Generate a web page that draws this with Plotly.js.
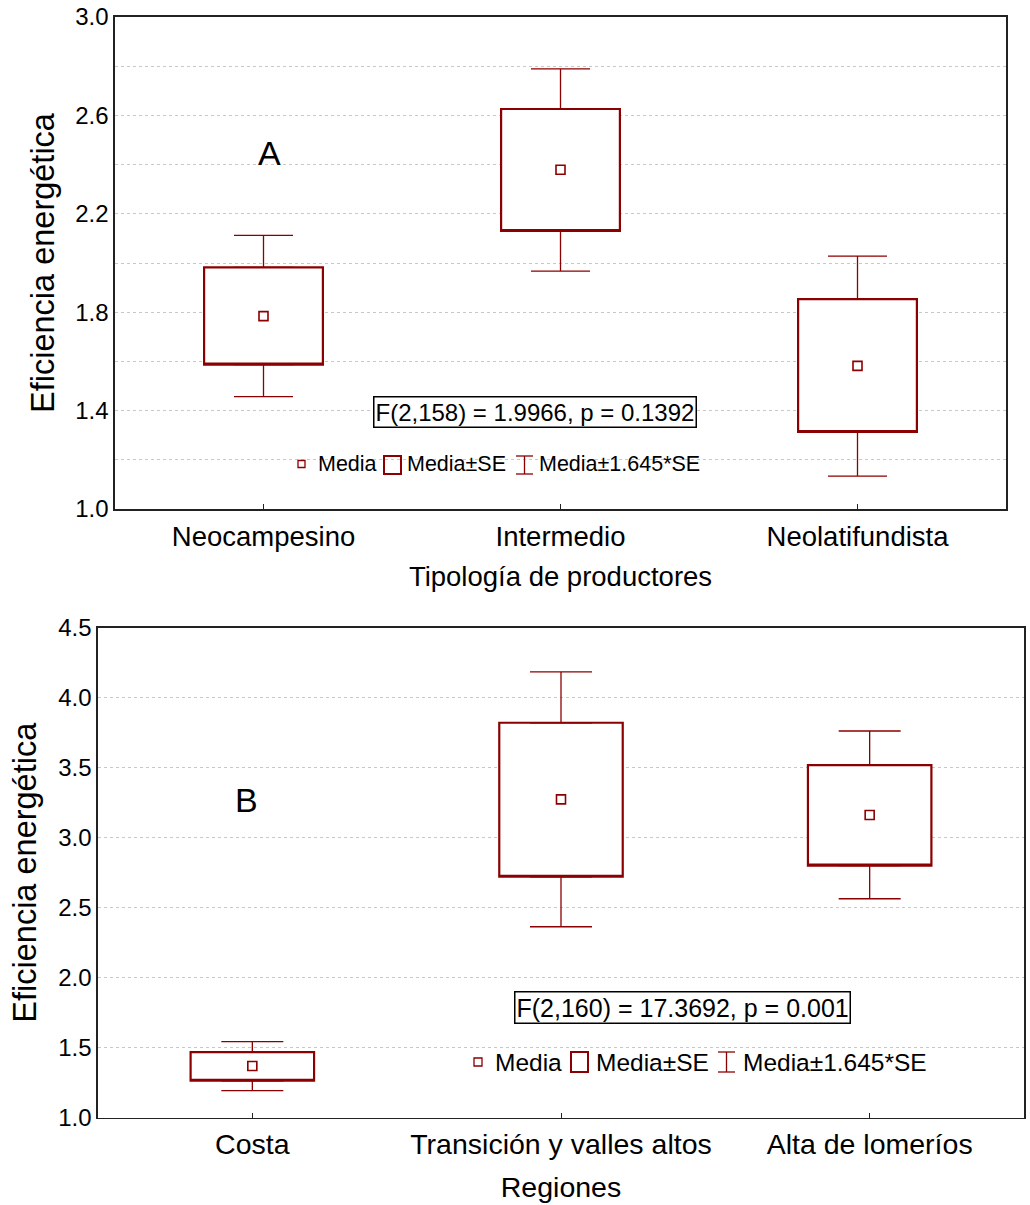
<!DOCTYPE html>
<html>
<head>
<meta charset="utf-8">
<script src="https://cdn.plot.ly/plotly-3.0.1.min.js"></script>
<style>html,body{margin:0;padding:0;background:#fff}#chart{width:1030px;height:1205px}</style>
</head>
<body>
<div id="chart"></div>
<script>
// ---- Panel A data (Tipología de productores) ----
const catsA = ['Neocampesino', 'Intermedio', 'Neolatifundista'];
const meanA = [1.784, 2.379, 1.582];
const seLowA = [1.587, 2.130, 1.313];
const seHighA = [1.982, 2.626, 1.853];
const ciLowA = [1.457, 1.967, 1.134];
const ciHighA = [2.112, 2.789, 2.028];

// ---- Panel B data (Regiones) ----
const catsB = ['Costa', 'Transición y valles altos', 'Alta de lomeríos'];
const meanB = [1.369, 3.274, 3.162];
const seLowB = [1.264, 2.721, 2.800];
const seHighB = [1.469, 3.821, 3.519];
const ciLowB = [1.193, 2.364, 2.564];
const ciHighB = [1.543, 4.184, 3.762];

const statA = 'F(2,158) = 1.9966, p = 0.1392';
const statB = 'F(2,160) = 17.3692, p = 0.001';
const legendLabels = ['Media', 'Media±SE', 'Media±1.645*SE'];
const yTitle = 'Eficiencia energética';
const xTitleA = 'Tipología de productores';
const xTitleB = 'Regiones';

const RED = '#8B0000';
const FONT = 'Arial, "Liberation Sans", sans-serif';
const W = 1030, H = 1205;
const px = v => v / W;
const py = v => 1 - v / H;

function panelTraces(cats, mean, seLow, seHigh, ciLow, ciHigh, xa, ya, capW) {
  const up = seHigh.map((v, i) => ciHigh[i] - v);
  const dn = seLow.map((v, i) => v - ciLow[i]);
  const zeros = cats.map(() => 0);
  return [
    {type: 'box', x: cats, q1: seLow, median: seLow, q3: seHigh,
     lowerfence: seLow, upperfence: seHigh, width: 0.4, whiskerwidth: 0,
     fillcolor: '#ffffff', line: {color: RED, width: 2.2}, boxpoints: false,
     xaxis: xa, yaxis: ya, showlegend: false, hoverinfo: 'skip'},
    {type: 'scatter', mode: 'markers', x: cats, y: seHigh,
     marker: {size: 1, color: 'rgba(0,0,0,0)'},
     error_y: {type: 'data', symmetric: false, array: up, arrayminus: zeros,
               color: RED, thickness: 1.3, width: capW},
     xaxis: xa, yaxis: ya, showlegend: false, hoverinfo: 'skip'},
    {type: 'scatter', mode: 'markers', x: cats, y: seLow,
     marker: {size: 1, color: 'rgba(0,0,0,0)'},
     error_y: {type: 'data', symmetric: false, array: zeros, arrayminus: dn,
               color: RED, thickness: 1.3, width: capW},
     xaxis: xa, yaxis: ya, showlegend: false, hoverinfo: 'skip'},
    {type: 'scatter', mode: 'markers', x: cats, y: mean,
     marker: {symbol: 'square-open', size: 9, color: RED, line: {width: 1.6, color: RED}},
     xaxis: xa, yaxis: ya, showlegend: false}
  ];
}

const data = [
  ...panelTraces(catsA, meanA, seLowA, seHighA, ciLowA, ciHighA, 'x', 'y', 29.5),
  ...panelTraces(catsB, meanB, seLowB, seHighB, ciLowB, ciHighB, 'x2', 'y2', 31)
];

const axisLine = {showline: true, linecolor: '#222', linewidth: 1.6, mirror: true};

function xAxis(domain, anchor, title, tsize, lstand, tstand) {
  return Object.assign({}, axisLine, {
    domain: domain, anchor: anchor, type: 'category', range: [-0.5, 2.5],
    ticks: 'inside', ticklen: 5, tickcolor: '#222', showgrid: false, zeroline: false,
    tickfont: {family: FONT, size: tsize, color: '#000'},
    ticklabelstandoff: lstand,
    title: {text: title, font: {family: FONT, size: tsize, color: '#000'}, standoff: tstand}
  });
}

function yAxis(domain, anchor, range, dtick, minorDtick, title, tstand) {
  const ax = Object.assign({}, axisLine, {
    domain: domain, anchor: anchor, range: range, dtick: dtick, tick0: 1,
    ticks: '', showgrid: true, gridcolor: '#c8c8c8', griddash: 'dot', gridwidth: 1,
    zeroline: false, tickformat: '.1f',
    tickfont: {family: FONT, size: 24, color: '#000'},
    title: {text: title, font: {family: FONT, size: 32.5, color: '#000'}, standoff: tstand}
  });
  if (minorDtick) ax.minor = {dtick: minorDtick, tick0: 1, showgrid: true, gridcolor: '#c8c8c8', griddash: 'dot', gridwidth: 1};
  return ax;
}

const domXA = [px(115), px(1006)], domYA = [py(509), py(17)];
const domXB = [px(98), px(1024)], domYB = [py(1117.7), py(627.7)];

const layout = {
  width: W, height: H,
  margin: {l: 0, r: 0, t: 0, b: 0},
  paper_bgcolor: '#fff', plot_bgcolor: '#fff',
  showlegend: false,
  font: {family: FONT, color: '#000'},
  xaxis: xAxis(domXA, 'y', xTitleA, 27.5, 2, 16),
  yaxis: yAxis(domYA, 'x', [1, 3], 0.4, 0.2, yTitle, 11),
  xaxis2: xAxis(domXB, 'y2', xTitleB, 28.5, 0, 18),
  yaxis2: yAxis(domYB, 'x2', [1, 4.5], 0.5, null, yTitle, 12),
  yaxis3: {overlaying: 'y', anchor: 'x', side: 'right', range: [1, 3], dtick: 0.2, tick0: 1,
           ticks: 'inside', ticklen: 6, tickwidth: 1.5, tickcolor: '#222',
           showticklabels: false, showgrid: false, zeroline: false, showline: false},
  yaxis4: {overlaying: 'y2', anchor: 'x2', side: 'right', range: [1, 4.5], dtick: 0.5, tick0: 1,
           ticks: 'inside', ticklen: 6, tickwidth: 1.5, tickcolor: '#222',
           showticklabels: false, showgrid: false, zeroline: false, showline: false},
  annotations: [],
  shapes: []
};

function addLegend(yc, sq, txt, box, ibeam, fs, sqSize) {
  const A = layout.annotations, S = layout.shapes;
  const h = sqSize / 2;
  S.push({type: 'rect', xref: 'paper', yref: 'paper', x0: px(sq - h), x1: px(sq + h), y0: py(yc + h), y1: py(yc - h),
          line: {color: RED, width: 1.3}, fillcolor: 'rgba(0,0,0,0)'});
  S.push({type: 'rect', xref: 'paper', yref: 'paper', x0: px(box[0]), x1: px(box[1]), y0: py(box[3]), y1: py(box[2]),
          line: {color: RED, width: 2}, fillcolor: 'rgba(0,0,0,0)'});
  const mid = (ibeam[0] + ibeam[1]) / 2;
  S.push({type: 'line', xref: 'paper', yref: 'paper', x0: px(mid), x1: px(mid), y0: py(ibeam[2]), y1: py(ibeam[3]), line: {color: RED, width: 1.3}});
  S.push({type: 'line', xref: 'paper', yref: 'paper', x0: px(ibeam[0]), x1: px(ibeam[1]), y0: py(ibeam[2]), y1: py(ibeam[2]), line: {color: RED, width: 1.3}});
  S.push({type: 'line', xref: 'paper', yref: 'paper', x0: px(ibeam[0]), x1: px(ibeam[1]), y0: py(ibeam[3]), y1: py(ibeam[3]), line: {color: RED, width: 1.3}});
  legendLabels.forEach((t, i) => {
    A.push({xref: 'paper', yref: 'paper', x: px(txt[i]), y: py(yc), xanchor: 'left', yanchor: 'middle',
            text: t, showarrow: false, font: {family: FONT, size: fs, color: '#000'}, borderpad: 0});
  });
}

// panel letters and statistics boxes
layout.annotations.push(
  {xref: 'paper', yref: 'paper', x: px(269), y: py(153), text: 'A', showarrow: false,
   font: {family: FONT, size: 34, color: '#000'}, xanchor: 'center', yanchor: 'middle'},
  {xref: 'paper', yref: 'paper', x: px(246), y: py(800), text: 'B', showarrow: false,
   font: {family: FONT, size: 34, color: '#000'}, xanchor: 'center', yanchor: 'middle'},
  {xref: 'paper', yref: 'paper', x: px(535), y: py(411.5), text: statA, showarrow: false,
   font: {family: FONT, size: 24, color: '#000'}, xanchor: 'center', yanchor: 'middle',
   bordercolor: '#000', borderwidth: 1.5, borderpad: 1, bgcolor: '#fff'},
  {xref: 'paper', yref: 'paper', x: px(682.5), y: py(1007), text: statB, showarrow: false,
   font: {family: FONT, size: 25, color: '#000'}, xanchor: 'center', yanchor: 'middle',
   bordercolor: '#000', borderwidth: 1.5, borderpad: 1, bgcolor: '#fff'}
);

addLegend(464, 301.5, [317, 406, 538], [384, 401, 456, 474], [516, 533, 456, 474], 21.5, 7);
addLegend(1062, 478, [494, 595, 742], [571, 588, 1052, 1072], [718, 735, 1052, 1072], 24.5, 8);

Plotly.newPlot('chart', data, layout, {displayModeBar: false, staticPlot: true});
</script>
</body>
</html>
